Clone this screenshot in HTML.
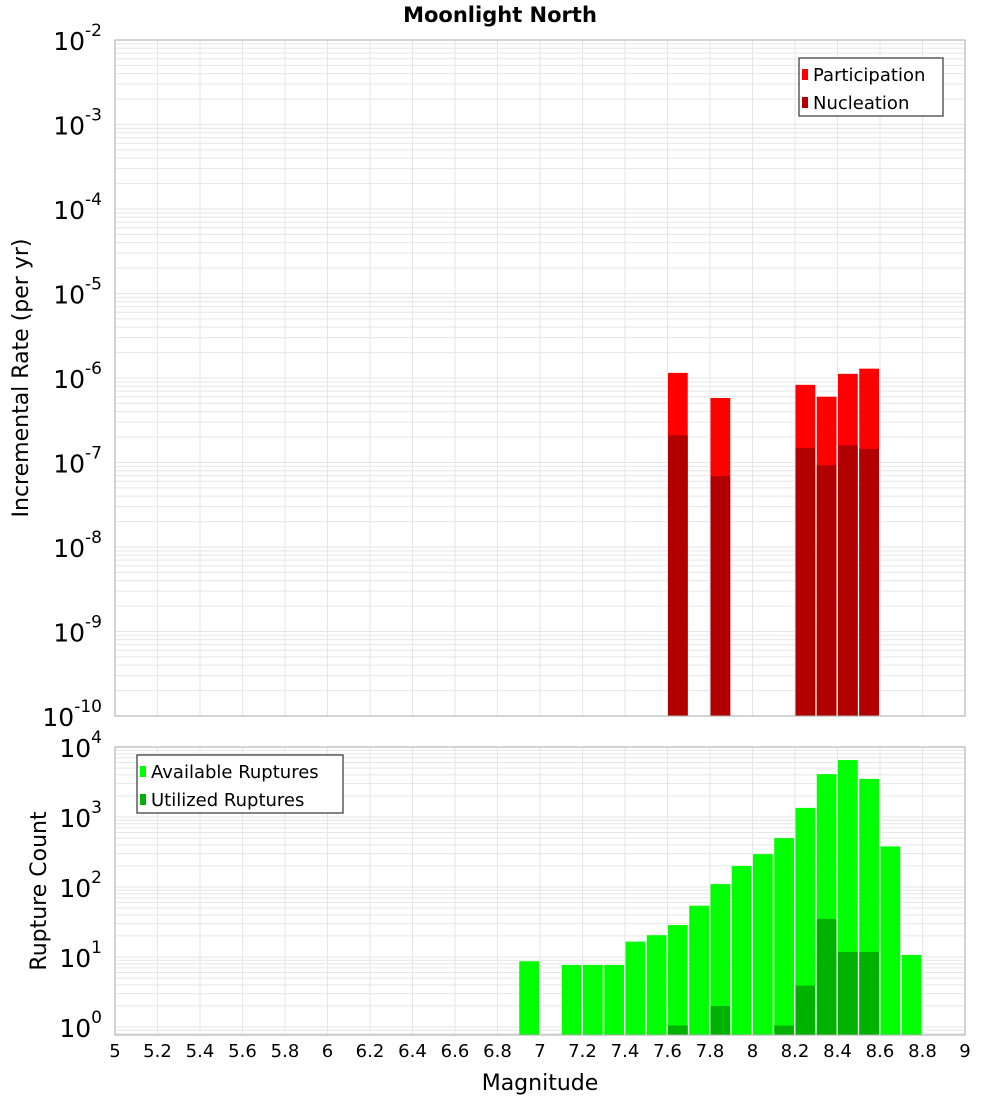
<!DOCTYPE html>
<html><head><meta charset="utf-8"><style>
body{margin:0;background:#fff;}
svg{display:block;font-family:"DejaVu Sans","Liberation Sans",sans-serif;}
</style></head><body>
<svg id="chart" width="1000" height="1100" xmlns="http://www.w3.org/2000/svg">
<text x="500" y="22" text-anchor="middle" font-size="21" font-weight="bold">Moonlight North</text>
<text transform="translate(28,378) rotate(-90)" text-anchor="middle" font-size="22">Incremental Rate (per yr)</text>
<text transform="translate(46,891) rotate(-90)" text-anchor="middle" font-size="22">Rupture Count</text>
<text x="540" y="1090" text-anchor="middle" font-size="22">Magnitude</text>
<g id="g"></g>
</svg>
<script>
const mags = [7.6, 7.8, 8.2, 8.3, 8.4, 8.5];
const participation = [1.15e-6, 5.8e-7, 8.3e-7, 6.0e-7, 1.12e-6, 1.29e-6];
const nucleation = [2.1e-7, 6.9e-8, 1.48e-7, 9.3e-8, 1.6e-7, 1.45e-7];
const countMags = [6.9, 7.1, 7.2, 7.3, 7.4, 7.5, 7.6, 7.7, 7.8, 7.9, 8.0, 8.1, 8.2, 8.3, 8.4, 8.5, 8.6, 8.7];
const available = [8.7, 7.7, 7.7, 7.7, 16.6, 20.5, 28.6, 54, 110, 200, 295, 500, 1350, 4100, 6500, 3500, 380, 10.7];
const utilized = [0, 0, 0, 0, 0, 0, 1.05, 0, 2, 0, 0, 1.05, 3.9, 35, 11.8, 11.8, 0, 0];
const xTicks = ["5","5.2","5.4","5.6","5.8","6","6.2","6.4","6.6","6.8","7","7.2","7.4","7.6","7.8","8","8.2","8.4","8.6","8.8","9"];

const NS="http://www.w3.org/2000/svg";
const g=document.getElementById('g');
function el(t,a,txt){const e=document.createElementNS(NS,t);for(const k in a)e.setAttribute(k,a[k]);if(txt!==undefined)e.textContent=txt;g.appendChild(e);return e;}
const X0=115,X1=965;
const xs=m=>X0+(m-5)*(X1-X0)/4;
const T={top:40,bot:716,maxL:-2,minL:-10,pd:84.5};
const B={top:747,bot:1035,maxL:4,minL:-0.12,pd:70};
const ys=(P,v)=>P.top+(P.maxL-Math.log10(v))*P.pd;

function frame(P,name){
  // minor + major horizontal gridlines
  for(let d=Math.floor(P.minL);d<P.maxL;d++){
    for(let k=1;k<10;k++){
      const y=ys(P,k*Math.pow(10,d));
      if(y<P.top||y>P.bot)continue;
      const l=el('line',{x1:X0,x2:X1,y1:y,y2:y,stroke:'#e6e6e6','stroke-width':1});
      
      
    }
  }
  xTicks.forEach(t=>{
    const x=xs(+t);
    const l=el('line',{x1:x,x2:x,y1:P.top,y2:P.bot,stroke:'#e6e6e6','stroke-width':1});
    
    
  });
}
frame(T,'top');frame(B,'bottom');

// top bars
mags.forEach((m,i)=>{
  const x=xs(m)+0.5,w=xs(m+0.1)-xs(m)-1.5;
  let y=ys(T,participation[i]);
  let r=el('rect',{x:x,y:y,width:w,height:T.bot-y,fill:'#ff0000'});
  
  
  y=ys(T,nucleation[i]);
  r=el('rect',{x:x,y:y,width:w,height:T.bot-y,fill:'#b20000'});
  
  
});
// bottom bars
countMags.forEach((m,i)=>{
  const x=xs(m)+0.5,w=xs(m+0.1)-xs(m)-1.5;
  let y=ys(B,available[i]);
  let r=el('rect',{x:x,y:y,width:w,height:B.bot-y,fill:'#00ff00'});
  
  
  if(utilized[i]>0){
    y=ys(B,utilized[i]);
    r=el('rect',{x:x,y:y,width:w,height:B.bot-y,fill:'#00b200'});
    
    
  }
});
// frames
[[T,'top-plot-frame'],[B,'bottom-plot-frame']].forEach(([P,n])=>{
  const r=el('rect',{x:X0,y:P.top,width:X1-X0,height:P.bot-P.top,fill:'none',stroke:'#aaaaaa','stroke-width':1});
  
  
});
// y tick labels
function ylab(P,d,name){
  const y=ys(P,Math.pow(10,d));
  const t=el('text',{x:102,y:y+10,'text-anchor':'end','font-size':25});
  
  
  const a=document.createElementNS(NS,'tspan');a.textContent='10';t.appendChild(a);
  const b=document.createElementNS(NS,'tspan');b.setAttribute('font-size','17');b.setAttribute('dy','-14');b.textContent=String(d);t.appendChild(b);
}
for(let d=-10;d<=-2;d++)ylab(T,d,'top-y-tick-label');
for(let d=0;d<=4;d++)ylab(B,d,'bottom-y-tick-label');
// x tick labels
xTicks.forEach(t=>{
  const e=el('text',{x:xs(+t),y:1057,'text-anchor':'middle','font-size':18},t);
  
  
});
// legends
function legend(x,y,w,items,name){
  const r=el('rect',{x:x,y:y,width:w,height:58,fill:'#fff',stroke:'#333','stroke-width':1.2});
  
  
  items.forEach((it,i)=>{
    const s=el('rect',{x:x+3,y:y+11+i*28,width:6,height:11,fill:it[1]});
    
    
    const t=el('text',{x:x+14,y:y+23+i*28,'font-size':18},it[0]);
    
    
  });
}
legend(799,58,144,[['Participation','#ff0000'],['Nucleation','#b20000']],'top-legend');
legend(137,755,206,[['Available Ruptures','#00ff00'],['Utilized Ruptures','#00b200']],'bottom-legend');
</script>
</body></html>
